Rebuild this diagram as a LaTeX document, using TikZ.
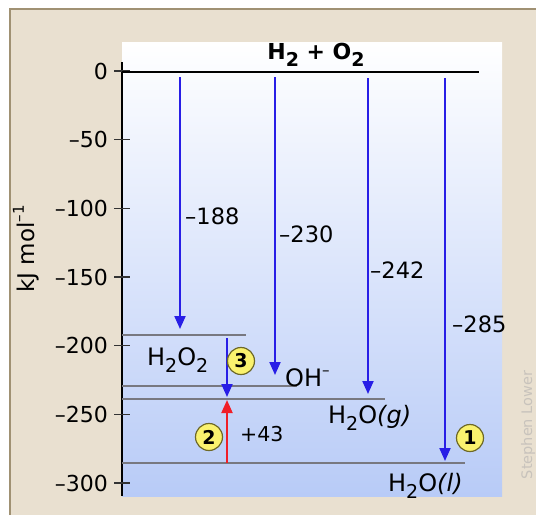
\documentclass[tikz,border=0pt]{standalone}
\usepackage{fontspec}
\setmainfont{DejaVu Sans}
\usetikzlibrary{arrows.meta}
\definecolor{beige}{RGB}{233,224,208}
\definecolor{framec}{RGB}{160,145,115}
\definecolor{panelbot}{RGB}{184,203,247}
\definecolor{arrblue}{RGB}{40,30,230}
\definecolor{arrred}{RGB}{240,30,40}
\definecolor{levgray}{RGB}{120,120,128}
\definecolor{circfill}{RGB}{250,242,110}
\definecolor{circedge}{RGB}{110,105,40}
\definecolor{signc}{RGB}{200,195,188}
\newcommand{\sbs}[1]{\raisebox{-0.3em}{\fontsize{19}{19}\selectfont #1}}
\newcommand{\sps}[1]{\raisebox{0.45em}{\fontsize{15}{15}\selectfont #1}}
\begin{document}
\begin{tikzpicture}[x=1pt,y=-1pt,
  ticklab/.style={anchor=east,inner sep=0pt,font=\fontsize{22}{22}\selectfont},
  vallab/.style={anchor=west,inner sep=0pt,font=\fontsize{22.5}{22.5}\selectfont},
  species/.style={anchor=base west,inner sep=0pt,font=\fontsize{24}{24}\selectfont},
  level/.style={draw=levgray,line width=1.6pt},
  downarr/.style={draw=arrblue,line width=2pt,-{Triangle[length=13pt,width=11pt]}},
  uparr/.style={draw=arrred,line width=2pt,-{Triangle[length=13pt,width=11pt]}},
  badge/.style={circle,fill=circfill,draw=circedge,line width=1.2pt,minimum size=27pt,inner sep=0pt,font=\bfseries\fontsize{19}{19}\selectfont}]
\useasboundingbox (0,0) rectangle (536,515);
% background frame
\fill[beige] (10,9) rectangle (536,515);
\draw[framec,line width=2pt] (10,515) -- (10,9) -- (536,9);
% panel
\shade[top color=white,bottom color=panelbot] (122,42) rectangle (502,496);
% axis
\coordinate (axtop) at (122,62);
\coordinate (axbot) at (122,496);
\draw[black,line width=1.7pt] (axtop) -- (axbot);
\foreach \v/\yy in {0/71,-50/139.7,-100/208.3,-150/277,-200/345.7,-250/414.3,-300/483}{
  \draw[black!80,line width=1.4pt] (114,\yy) -- (130,\yy);
}
\node[ticklab] (t0) at (108,71) {0};
\node[ticklab] (t50) at (108,139.7) {–50};
\node[ticklab] (t100) at (108,208.3) {–100};
\node[ticklab] (t150) at (108,277) {–150};
\node[ticklab] (t200) at (108,345.7) {–200};
\node[ticklab] (t250) at (108,414.3) {–250};
\node[ticklab] (t300) at (108,483) {–300};
\node[rotate=90,inner sep=0pt,font=\fontsize{23}{23}\selectfont] (unit) at (26,249) {kJ mol\sps{–1}};
% reactant level
\coordinate (r0) at (122,72);
\coordinate (r1) at (479,72);
\draw[black,line width=2.2pt] (r0) -- (r1);
\node[anchor=base,inner sep=0pt,font=\bfseries\fontsize{22}{22}\selectfont] (react) at (316,59.5) {H\sbs{2} + O\sbs{2}};
% product levels
\coordinate (l1a) at (122,335); \coordinate (l1b) at (246,335);
\coordinate (l2a) at (122,386); \coordinate (l2b) at (297,386);
\coordinate (l3a) at (122,399); \coordinate (l3b) at (385,399);
\coordinate (l4a) at (122,463); \coordinate (l4b) at (465,463);
\draw[level] (l1a) -- (l1b);
\draw[level] (l2a) -- (l2b);
\draw[level] (l3a) -- (l3b);
\draw[level] (l4a) -- (l4b);
\node[species] (h2o2) at (147,365) {H\sbs{2}O\sbs{2}};
\node[species] (ohm) at (285,386) {OH\sps{–}};
\node[species] (h2og) at (328,423) {H\sbs{2}O\textit{(g)}};
\node[species] (h2ol) at (388,491) {H\sbs{2}O\textit{(l)}};
% arrows from H2 + O2
\coordinate (a1s) at (180,77); \coordinate (a1e) at (180,329);
\coordinate (a2s) at (275,77); \coordinate (a2e) at (275,375);
\coordinate (a3s) at (368,78); \coordinate (a3e) at (368,394);
\coordinate (a4s) at (445,78); \coordinate (a4e) at (445,461);
\draw[downarr] (a1s) -- (a1e);
\draw[downarr] (a2s) -- (a2e);
\draw[downarr] (a3s) -- (a3e);
\draw[downarr] (a4s) -- (a4e);
\node[vallab] (v188) at (185,216) {–188};
\node[vallab] (v230) at (279,234) {–230};
\node[vallab] (v242) at (370,270) {–242};
\node[vallab] (v285) at (452,324) {–285};
% step arrows
\coordinate (b3s) at (227,338); \coordinate (b3e) at (227,397);
\coordinate (b2s) at (227,463); \coordinate (b2e) at (227,400);
\draw[downarr] (b3s) -- (b3e);
\draw[uparr] (b2s) -- (b2e);
\node[anchor=west,inner sep=0pt,font=\fontsize{20.5}{20.5}\selectfont] (p43) at (240,434) {+43};
% badges
\node[badge] (c3) at (241,361) {3};
\node[badge] (c2) at (209,437) {2};
\node[badge] (c1) at (470,438) {1};
% signature
\node[rotate=90,inner sep=0pt,text=signc,font=\fontsize{14.5}{14.5}\selectfont] (sig) at (528,425) {Stephen Lower};
\end{tikzpicture}
\end{document}
